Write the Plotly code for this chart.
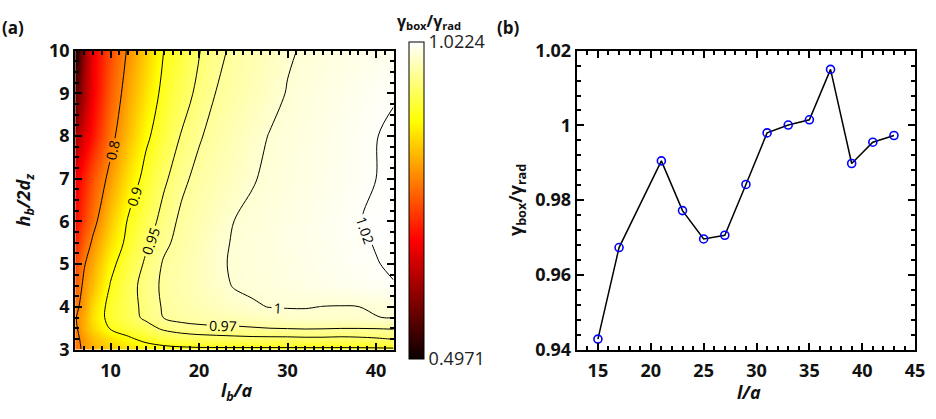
import plotly.graph_objects as go

# ---------------- data: panel (a) ----------------
X_COLS = [6, 7, 8, 10, 12, 14, 16, 18, 20, 22, 24, 26, 28, 30, 32, 34, 36, 38, 40, 42]
Y_ROWS = [3, 3.25, 3.5, 3.75, 4, 4.5, 5, 5.5, 6, 7, 8, 9, 10]

row_3_00 = [0.78, 0.81, 0.83, 0.85, 0.865, 0.878, 0.885, 0.888, 0.89, 0.89, 0.89, 0.89, 0.89, 0.89, 0.89, 0.89, 0.89, 0.89, 0.891, 0.892]
row_3_25 = [0.785, 0.815, 0.84, 0.87, 0.893, 0.912, 0.925, 0.935, 0.94, 0.942, 0.944, 0.945, 0.945, 0.945, 0.946, 0.946, 0.945, 0.946, 0.948, 0.951]
row_3_50 = [0.79, 0.83, 0.86, 0.904, 0.921, 0.937, 0.956, 0.963, 0.965, 0.966, 0.966, 0.968, 0.970, 0.971, 0.972, 0.9715, 0.9705, 0.9705, 0.971, 0.972]
row_3_75 = [0.795, 0.83, 0.87, 0.915, 0.936, 0.9567, 0.9705, 0.976, 0.979, 0.982, 0.985, 0.988, 0.991, 0.994, 0.996, 0.996, 0.996, 0.997, 0.9995, 1.001]
row_4_00 = [0.785, 0.82, 0.865, 0.915, 0.937, 0.959, 0.972, 0.978, 0.984, 0.990, 0.995, 0.998, 1.0005, 1.001, 1.0008, 0.9997, 0.9993, 0.9998, 1.002, 1.005]
row_4_50 = [0.765, 0.81, 0.842, 0.903, 0.937, 0.962, 0.973, 0.981, 0.988, 0.9955, 1.001, 1.003, 1.005, 1.007, 1.009, 1.011, 1.013, 1.015, 1.0172, 1.0195]
row_5_00 = [0.745, 0.796, 0.827, 0.888, 0.927, 0.955, 0.972, 0.980, 0.988, 0.998, 1.0014, 1.0036, 1.0059, 1.0082, 1.0105, 1.0127, 1.015, 1.0173, 1.0195, 1.0215]
row_5_50 = [0.72, 0.77, 0.808, 0.866, 0.913, 0.945, 0.966, 0.976, 0.986, 0.997, 1.0011, 1.0036, 1.006, 1.0085, 1.011, 1.0134, 1.0158, 1.0183, 1.0206, 1.0224]
row_6_00 = [0.70, 0.745, 0.785, 0.848, 0.905, 0.935, 0.96, 0.974, 0.983, 0.992, 1.0003, 1.0029, 1.0056, 1.0083, 1.011, 1.0136, 1.0163, 1.0197, 1.0212, 1.0224]
row_7_00 = [0.68, 0.72, 0.76, 0.814, 0.871, 0.915, 0.945, 0.9655, 0.9758, 0.984, 0.991, 0.999, 1.0026, 1.0055, 1.0084, 1.0113, 1.0142, 1.017, 1.020, 1.0224]
row_8_00 = [0.62, 0.67, 0.71, 0.785, 0.841, 0.892, 0.924, 0.952, 0.968, 0.9775, 0.986, 0.994, 1.0009, 1.004, 1.007, 1.010, 1.013, 1.0165, 1.0197, 1.0222]
row_9_00 = [0.56, 0.63, 0.69, 0.765, 0.822, 0.871, 0.911, 0.937, 0.957, 0.971, 0.978, 0.986, 0.994, 1.001, 1.005, 1.008, 1.011, 1.014, 1.017, 1.019]
row_10_0 = [0.50, 0.61, 0.685, 0.752, 0.806, 0.853, 0.90, 0.924, 0.949, 0.964, 0.975, 0.982, 0.990, 0.998, 1.002, 1.005, 1.007, 1.010, 1.012, 1.015]

Z_GRID = [row_3_00, row_3_25, row_3_50, row_3_75, row_4_00, row_4_50, row_5_00,
          row_5_50, row_6_00, row_7_00, row_8_00, row_9_00, row_10_0]

CONTOUR_LEVELS = [0.8, 0.9, 0.95, 0.97, 1.0, 1.02]
Z_MIN, Z_MAX = 0.4971, 1.0224
CBAR_TICKS = [0.4971, 1.0224]
CBAR_TEXT = ["0.4971", "1.0224"]

# ---------------- data: panel (b) ----------------
L_OVER_A = [15, 17, 21, 23, 25, 27, 29, 31, 33, 35, 37, 39, 41, 43]
GAMMA_RATIO = [0.9428, 0.9673, 0.9905, 0.9772, 0.9696, 0.9706, 0.9842,
               0.9980, 1.0001, 1.0015, 1.0150, 0.9898, 0.9955, 0.9973]

W, H = 936, 419
FONT = "Open Sans"

hot = [[0.0, "rgb(10,0,0)"], [0.375, "rgb(255,0,0)"],
       [0.75, "rgb(255,255,0)"], [1.0, "rgb(255,255,255)"]]

fig = go.Figure()

fig.add_trace(go.Heatmap(
    x=X_COLS, y=Y_ROWS, z=Z_GRID, zmin=Z_MIN, zmax=Z_MAX,
    colorscale=hot, zsmooth="best", hoverinfo="skip",
    xaxis="x", yaxis="y",
    colorbar=dict(
        x=413 / W, xanchor="left", xpad=0,
        y=(H - 198.5) / H, yanchor="middle", ypad=0,
        len=317, lenmode="pixels", thickness=15, thicknessmode="pixels",
        outlinewidth=1, outlinecolor="black",
        tickmode="array", tickvals=CBAR_TICKS, ticktext=CBAR_TEXT,
        ticks="", tickfont=dict(family=FONT, size=18, color="#222"),
    ),
))

for lv in CONTOUR_LEVELS:
    fig.add_trace(go.Contour(
        x=X_COLS, y=Y_ROWS, z=Z_GRID,
        autocontour=False,
        contours=dict(start=lv, end=lv, size=0.01, coloring="none",
                      showlabels=True, labelformat=".3~g",
                      labelfont=dict(family=FONT, size=14, color="black")),
        line=dict(color="black", width=1),
        showscale=False, hoverinfo="skip", xaxis="x", yaxis="y",
    ))

fig.add_trace(go.Scatter(
    x=L_OVER_A, y=GAMMA_RATIO, mode="lines+markers",
    line=dict(color="black", width=1.5),
    marker=dict(symbol="circle-open", size=8, color="blue", line=dict(width=1.6, color="blue")),
    xaxis="x2", yaxis="y2", hoverinfo="skip", showlegend=False,
))

tickfont = dict(family=FONT, size=18, color="#111", weight="bold")
common = dict(showline=True, linewidth=2, linecolor="black", mirror="allticks",
              ticks="inside", ticklen=7, tickwidth=1.5, tickcolor="black",
              showgrid=False, zeroline=False, tickfont=tickfont)

fig.update_layout(
    width=W, height=H, margin=dict(l=0, r=0, t=0, b=0),
    paper_bgcolor="white", plot_bgcolor="white", showlegend=False,
    xaxis=dict(domain=[76 / W, 398 / W], range=[6, 42], anchor="y",
               tickmode="array", tickvals=[10, 20, 30, 40], ticklabelstandoff=4,
               minor=dict(dtick=1, tick0=0, ticks="inside", ticklen=4, tickcolor="black"),
               **common),
    yaxis=dict(domain=[(H - 357) / H, (H - 40) / H], range=[3, 10], anchor="x",
               dtick=1, tick0=0,
               minor=dict(dtick=0.25, tick0=0, ticks="inside", ticklen=4, tickcolor="black"),
               **common),
    xaxis2=dict(domain=[583 / W, 925 / W], range=[13, 45], anchor="y2",
                dtick=5, tick0=15, ticklabelstandoff=4,
                minor=dict(dtick=1, tick0=0, ticks="inside", ticklen=4, tickcolor="black"),
                **common),
    yaxis2=dict(domain=[(H - 357) / H, (H - 40) / H], range=[0.94, 1.02], anchor="x2",
                dtick=0.02, tick0=0.94,
                minor=dict(dtick=0.004, tick0=0.94, ticks="inside", ticklen=4, tickcolor="black"),
                **common),
)

bold = dict(family=FONT, size=18, color="#111", weight="bold")
ann = [
    dict(text="(a)", x=0 / W, y=(H - 15) / H, xanchor="left", yanchor="middle",
         font=dict(family=FONT, size=17, color="#111", weight="bold")),
    dict(text="(b)", x=500 / W, y=(H - 15) / H, xanchor="left", yanchor="middle",
         font=dict(family=FONT, size=17, color="#111", weight="bold")),
    dict(text="γ<sub>box</sub>/γ<sub>rad</sub>", x=434 / W, y=(H - 9) / H,
         xanchor="center", yanchor="middle",
         font=dict(family=FONT, size=16, color="#111", weight="bold")),
    dict(text="<i>l</i><sub><i>b</i></sub><i>/a</i>", x=239 / W, y=(H - 401) / H,
         xanchor="center", yanchor="middle", font=bold),
    dict(text="<i>h</i><sub><i>b</i></sub><i>/2d</i><sub><i>z</i></sub>", x=25 / W, y=(H - 198) / H,
         xanchor="center", yanchor="middle", textangle=-90, font=bold),
    dict(text="<i>l/a</i>", x=757 / W, y=(H - 402) / H,
         xanchor="center", yanchor="middle", font=bold),
    dict(text="γ<sub>box</sub>/γ<sub>rad</sub>", x=522 / W, y=(H - 198) / H,
         xanchor="center", yanchor="middle", textangle=-90, font=bold),
]
for a in ann:
    a.update(xref="paper", yref="paper", showarrow=False)
fig.update_layout(annotations=ann)

fig.write_html("out.html")
